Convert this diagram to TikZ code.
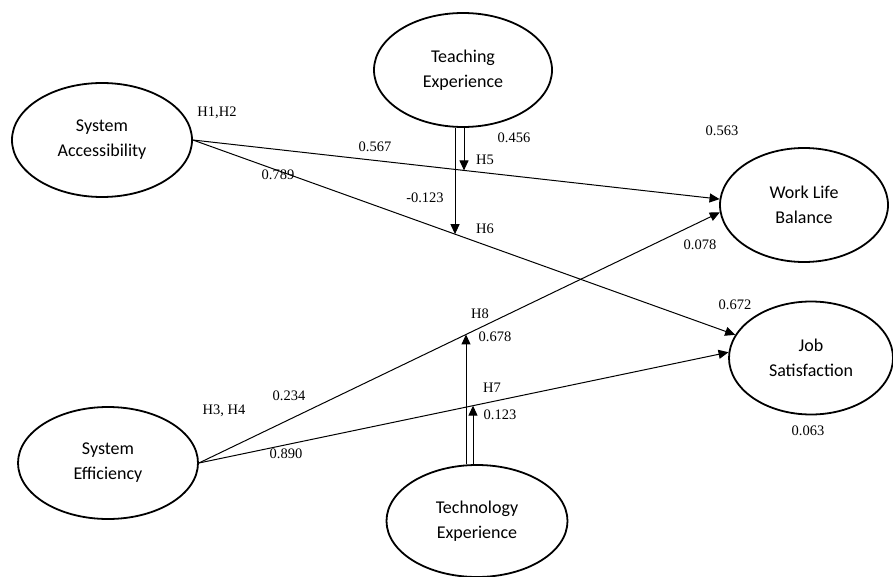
\documentclass[tikz,border=0pt]{standalone}
\usepackage{fontspec}
\setmainfont{Carlito}
\newfontfamily\coeffont{Liberation Serif}
\usetikzlibrary{positioning,%
  arrows.meta,%
  intersections,%
  shapes.geometric
}

\tikzset{
  latent/.style={ellipse,draw,line width=1.8pt,inner sep=0pt,minimum width=180pt,minimum height=114pt,align=center,font=\fontsize{18}{25}\selectfont},
  link/.style={line width=1pt,-{Triangle[length=10pt,width=9pt]}},
  coef/.style={font=\coeffont\fontsize{14.5}{17}\selectfont,inner sep=0pt}
}

\begin{document}
\begin{tikzpicture}[x=1pt,y=-1pt]
            \useasboundingbox (0,0) rectangle (893,577);
            \node[latent] (sa) at (102,140) {System\\Accessibility};
            \node[latent,minimum width=178pt] (te) at (463,70) {Teaching\\Experience};
            \node[latent,minimum width=168pt] (wlb) at (804,205) {Work Life\\Balance};
            \node[latent,minimum width=164pt,minimum height=113pt] (js) at (811,358) {Job\\Satisfaction};
            \node[latent,minimum height=112pt] (se) at (108,463) {System\\Efficiency};
            \node[latent,minimum width=181pt,minimum height=112pt] (tx) at (477,521) {Technology\\Experience};

            \draw[link,name path=sawlb] (sa.east) -- (wlb.176);
            \draw[link,name path=sajs] (sa.east) -- (js.163);
            \draw[link,name path=sewlb] (se.east) -- (wlb.185);
            \draw[link,name path=sejs] (se.east) -- (js.176.5);

            \path[name path=v5] (464,0) -- (464,577);
            \path[name path=v6] (455,0) -- (455,577);
            \path[name path=v7] (473,0) -- (473,577);
            \path[name path=v8] (466,0) -- (466,577);
            \path[name intersections={of=sawlb and v5,by=h5}];
            \path[name intersections={of=sajs and v6,by=h6}];
            \path[name intersections={of=sejs and v7,by=h7}];
            \path[name intersections={of=sewlb and v8,by=h8}];

            \draw[link] (te.south -| h5) -- (h5);
            \draw[link] (te.south -| h6) -- (h6);
            \draw[link] (tx.north -| h7) -- (h7);
            \draw[link] (tx.north -| h8) -- (h8);

            \node[coef] (lh12) at (217,113) {H1,H2};
            \node[coef] (lsawlb) at (375,147) {0.567};
            \node[coef] (lsajs) at (278,175) {0.789};
            \node[coef] (lte5) at (514,138) {0.456};
            \node[coef] (lh5) at (485,160) {H5};
            \node[coef] (lte6) at (425,198) {-0.123};
            \node[coef] (lh6) at (485,229) {H6};
            \node[coef] (lwlb) at (722,131) {0.563};
            \node[coef] (lwlb2) at (700,245) {0.078};
            \node[coef] (ljs) at (735,305) {0.672};
            \node[coef] (ljs2) at (808,431) {0.063};
            \node[coef] (lh8) at (480,314) {H8};
            \node[coef] (ltx8) at (495,337) {0.678};
            \node[coef] (lh7) at (492,388) {H7};
            \node[coef] (ltx7) at (500,415) {0.123};
            \node[coef] (lh34) at (224,411) {H3, H4};
            \node[coef] (lsewlb) at (289,396) {0.234};
            \node[coef] (lsejs) at (286,454) {0.890};
\end{tikzpicture}
\end{document}
